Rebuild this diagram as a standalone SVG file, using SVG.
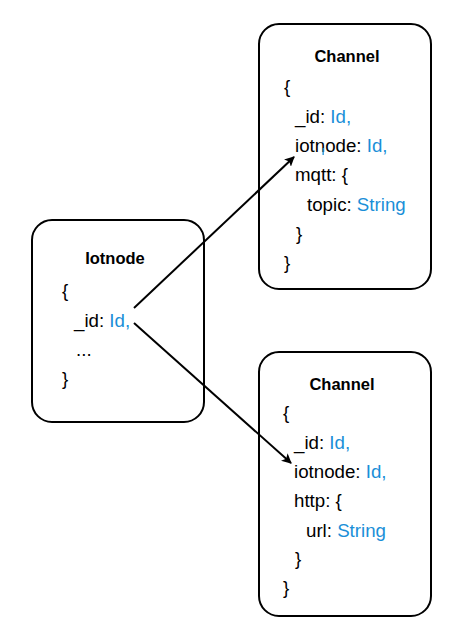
<svg xmlns="http://www.w3.org/2000/svg" width="467" height="643" viewBox="0 0 467 643">
<style>
.box{fill:#fff;stroke:#000;stroke-width:2}
text{font-family:"Liberation Sans",Arial,sans-serif;font-size:18.7px;fill:#000}
.t{font-weight:bold;text-anchor:middle;font-size:16.5px}
.b{fill:#1a8fd8}
.c{stroke:#000;stroke-width:2;fill:none}
</style>
<defs>
<marker id="ah" markerWidth="10" markerHeight="10" refX="9" refY="5" orient="auto" markerUnits="userSpaceOnUse" viewBox="0 0 10 10">
<path d="M0,0 L10,5 L0,10 L2.5,5 z" fill="#000"/>
</marker>
</defs>
<rect width="467" height="643" fill="#fff"/>
<g id="channel-mqtt">
<rect class="box" x="259" y="24" width="172" height="265" rx="20"/>
<text class="t" x="347" y="62">Channel</text>
<text x="284" y="93">{</text>
<text x="295" y="122.5">_id: <tspan class="b">Id,</tspan></text>
<text x="295" y="151.5">iotnode: <tspan class="b">Id,</tspan></text>
<text x="295" y="181">mqtt: {</text>
<text x="307" y="210.5">topic: <tspan class="b">String</tspan></text>
<text x="296" y="239.5">}</text>
<text x="284" y="268.5">}</text>
<rect x="322.5" y="148" width="1.3" height="7" fill="#1a8fd8"/>
</g>
<g id="iotnode">
<rect class="box" x="32" y="220" width="172" height="202" rx="20"/>
<text class="t" x="115" y="264">Iotnode</text>
<text x="62" y="297">{</text>
<text x="74" y="326.5">_id: <tspan class="b">Id,</tspan></text>
<text x="76" y="356">...</text>
<text x="62" y="385">}</text>
</g>
<g id="channel-http">
<rect class="box" x="259" y="352" width="172" height="264" rx="20"/>
<text class="t" x="342" y="390">Channel</text>
<text x="283" y="419">{</text>
<text x="294" y="448.5">_id: <tspan class="b">Id,</tspan></text>
<text x="294" y="477.5">iotnode: <tspan class="b">Id,</tspan></text>
<text x="294" y="507">http: {</text>
<text x="306" y="536.5">url: <tspan class="b">String</tspan></text>
<text x="295" y="565">}</text>
<text x="283" y="594">}</text>
</g>
<g id="connectors">
<line class="c" x1="134" y1="308" x2="294" y2="157" marker-end="url(#ah)"/>
<line class="c" x1="134" y1="323" x2="291" y2="463" marker-end="url(#ah)"/>
</g>
</svg>
